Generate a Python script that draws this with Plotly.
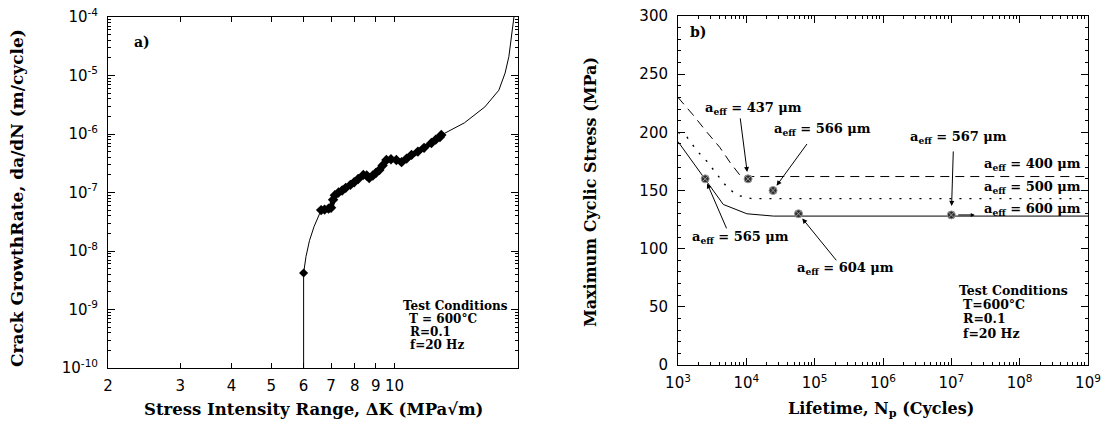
import math
import plotly.graph_objects as go

W, H = 1114, 426

# ---------------- Panel a) data ----------------
dk_line = [6.0, 6.0, 6.08, 6.2, 6.36, 6.62, 6.9, 7.0, 7.15, 7.6, 7.97, 8.39, 8.67, 9.18, 9.55,
           10.1, 10.4, 11.0, 11.8, 12.9, 13.0, 14.8, 16.6, 17.96, 18.6, 19.0, 19.35, 19.55]
rate_line = [1e-10, 4.2e-9, 8e-9, 1.5e-8, 2.6e-8, 5.0e-8, 5.3e-8, 5.5e-8, 9.0e-8, 1.2e-7, 1.5e-7,
             2.0e-7, 1.77e-7, 2.43e-7, 3.6e-7, 3.6e-7, 3.3e-7, 4.4e-7, 5.8e-7, 8.9e-7, 9.6e-7,
             1.55e-6, 2.9e-6, 5.6e-6, 1.1e-5, 2.1e-5, 5.4e-5, 1e-4]

dk_single = [6.0]
rate_single = [4.2e-9]

dk_pts = [6.62, 6.75, 6.9, 7.0, 7.08, 7.15, 7.3, 7.45, 7.6, 7.8, 7.97, 8.15, 8.39, 8.55, 8.67,
          8.85, 9.0, 9.18, 9.35, 9.55, 9.8, 10.1, 10.4, 10.7, 11.0, 11.4, 11.8, 12.3, 12.6, 12.9, 13.0]
rate_pts = [5.0e-8, 5.1e-8, 5.3e-8, 5.5e-8, 7.5e-8, 9.0e-8, 1.0e-7, 1.08e-7, 1.2e-7, 1.35e-7,
            1.5e-7, 1.7e-7, 2.0e-7, 1.95e-7, 1.77e-7, 1.95e-7, 2.15e-7, 2.43e-7, 2.9e-7, 3.6e-7,
            3.7e-7, 3.6e-7, 3.3e-7, 3.8e-7, 4.4e-7, 5.0e-7, 5.8e-7, 7.0e-7, 8.0e-7, 8.9e-7, 9.6e-7]

a_xticks = [2, 3, 4, 5, 6, 7, 8, 9, 10]
a_xticktext = ["2", "3", "4", "5", "6", "7", "8", "9", "10"]
a_yticks = [1e-10, 1e-9, 1e-8, 1e-7, 1e-6, 1e-5, 1e-4]
a_yticktext = ["10<sup>-10</sup>", "10<sup>-9</sup>", "10<sup>-8</sup>", "10<sup>-7</sup>",
               "10<sup>-6</sup>", "10<sup>-5</sup>", "10<sup>-4</sup>"]

# ---------------- Panel b) data ----------------
n_solid = [1e3, 2.5e3, 4.6e3, 1.02e4, 2.5e4, 5.8e4, 1e9]
s_solid = [192, 160, 138, 130, 128, 128, 128]
n_dot = [1e3, 1.35e3, 1.9e3, 2.66e3, 3.7e3, 5.2e3, 7.3e3, 1.2e4, 1e9]
s_dot = [200, 196, 184, 175, 164, 153, 146, 143, 143]
n_dash = [1e3, 1.66e3, 2.66e3, 4.1e3, 5.8e3, 8.1e3, 1.25e4, 1e9]
s_dash = [230, 215, 200, 187, 174, 163, 162, 162]

n_marks = [2.5e3, 1.06e4, 2.46e4, 5.8e4, 1e7]
s_marks = [160, 160, 150, 130, 129]
aeff_marks = ["565", "437", "566", "604", "567"]

b_xticks = [1e3, 1e4, 1e5, 1e6, 1e7, 1e8, 1e9]
b_xticktext = ["10<sup>3</sup>", "10<sup>4</sup>", "10<sup>5</sup>", "10<sup>6</sup>",
               "10<sup>7</sup>", "10<sup>8</sup>", "10<sup>9</sup>"]
b_yticks = [0, 50, 100, 150, 200, 250, 300]

# ---------------- figure ----------------
SERIF = "DejaVu Serif"
SANS = "DejaVu Sans"

def px(x):
    return x / W

def py(y):
    return 1 - y / H

fig = go.Figure()

fig.add_trace(go.Scatter(x=dk_line, y=rate_line, mode="lines",
                         line=dict(color="black", width=1), xaxis="x", yaxis="y",
                         showlegend=False, hoverinfo="skip"))
fig.add_trace(go.Scatter(x=dk_pts, y=rate_pts, mode="lines+markers",
                         line=dict(color="black", width=5),
                         marker=dict(symbol="diamond", size=8, color="black"),
                         xaxis="x", yaxis="y", showlegend=False))
fig.add_trace(go.Scatter(x=dk_single, y=rate_single, mode="markers",
                         marker=dict(symbol="diamond", size=7, color="black"),
                         xaxis="x", yaxis="y", showlegend=False))

fig.add_trace(go.Scatter(x=n_solid, y=s_solid, mode="lines",
                         line=dict(color="black", width=1), xaxis="x2", yaxis="y2",
                         showlegend=False))
fig.add_trace(go.Scatter(x=n_dot, y=s_dot, mode="lines",
                         line=dict(color="black", width=1.4, dash="2px,8px"), xaxis="x2", yaxis="y2",
                         showlegend=False))
fig.add_trace(go.Scatter(x=n_dash, y=s_dash, mode="lines",
                         line=dict(color="black", width=1, dash="9px,6px"), xaxis="x2", yaxis="y2",
                         showlegend=False))
fig.add_trace(go.Scatter(x=n_marks, y=s_marks, mode="markers", text=aeff_marks,
                         marker=dict(symbol="circle-x", size=8, color="#303030",
                                     line=dict(color="#9a9a9a", width=1)),
                         xaxis="x2", yaxis="y2", showlegend=False))

axis_common = dict(showline=True, linecolor="black", linewidth=1, mirror="ticks",
                   ticks="inside", tickcolor="black", showgrid=False, zeroline=False,
                   automargin=False,
                   tickfont=dict(family=SANS, size=15, color="black"))

a_minor_y = [m * 10.0 ** e for e in range(-10, -4) for m in range(2, 10)]
b_minor_x = [m * 10.0 ** e for e in range(3, 9) for m in range(2, 10)]
b_minor_y = list(range(0, 301, 10))

fig.update_layout(
    width=W, height=H,
    margin=dict(l=0, r=0, t=0, b=0, autoexpand=False),
    paper_bgcolor="white", plot_bgcolor="white",
    xaxis=dict(axis_common, type="log", range=[math.log10(2), math.log10(20)],
               domain=[px(108), px(518)], anchor="y",
               tickvals=a_xticks, ticktext=a_xticktext, ticklen=5, ticklabelstandoff=4),
    yaxis=dict(axis_common, type="log", range=[-10, -4],
               domain=[py(368), py(17)], anchor="x",
               tickvals=a_yticks, ticktext=a_yticktext, ticklen=7, ticklabelstandoff=6,
               minor=dict(tickmode="array", tickvals=a_minor_y, ticks="inside", ticklen=3,
                          tickcolor="black", showgrid=False)),
    xaxis2=dict(axis_common, type="log", range=[3, 9],
                domain=[px(678), px(1088)], anchor="y2",
                tickvals=b_xticks, ticktext=b_xticktext, ticklen=7, ticklabelstandoff=4,
                minor=dict(tickmode="array", tickvals=b_minor_x, ticks="inside", ticklen=3,
                           tickcolor="black", showgrid=False)),
    yaxis2=dict(axis_common, range=[0, 300],
                domain=[py(365), py(16)], anchor="x2",
                tickvals=b_yticks, ticklen=7, ticklabelstandoff=6,
                minor=dict(tickmode="array", tickvals=b_minor_y, ticks="inside", ticklen=3,
                           tickcolor="black", showgrid=False)),
)

ann = []

def txt(x, y, s, size=13, xanchor="left"):
    ann.append(dict(x=px(x), y=py(y), xref="paper", yref="paper", text=s, showarrow=False,
                    xanchor=xanchor, yanchor="middle",
                    font=dict(family=SERIF, size=size, color="black")))

def title(x, y, s, angle=0, size=17):
    ann.append(dict(x=px(x), y=py(y), xref="paper", yref="paper", text=s, showarrow=False,
                    xanchor="center", yanchor="middle", textangle=angle,
                    font=dict(family=SERIF, size=size, color="black")))

# axis titles
title(17, 198, "<b>Crack GrowthRate, da/dN (m/cycle)</b>", -90, 17)
title(313, 409, "<b>Stress Intensity Range, ΔK (MPa√m)</b>", 0, 16.5)
title(590, 192, "<b>Maximum Cyclic Stress (MPa)</b>", -90, 16)
title(881, 409, "<b>Lifetime, N<sub>p</sub> (Cycles)</b>", 0, 16)

# panel labels
txt(132, 42, "<b>a)</b>", 14)
txt(688, 32, "<b>b)</b>", 14)

# test conditions a)
txt(401, 306, "<b>Test Conditions</b>", 12)
txt(407, 319, "<b>T = 600°C</b>", 12)
txt(408, 332, "<b>R=0.1</b>", 12)
txt(408, 345, "<b>f=20 Hz</b>", 12)

# test conditions b)
txt(957, 290, "<b>Test Conditions</b>", 12.5)
txt(961, 304, "<b>T=600°C</b>", 12.5)
txt(961, 318, "<b>R=0.1</b>", 12.5)
txt(961, 333, "<b>f=20 Hz</b>", 12.5)

# a_eff labels
def aeff(v):
    return "<b>a<sub>eff</sub> = " + v + " μm</b>"

txt(703, 108, aeff("437"))
txt(772, 130, aeff("566"))
txt(690, 237, aeff("565"))
txt(795, 268, aeff("604"))
txt(908, 137, aeff("567"))
txt(1083, 165, aeff("400"), xanchor="right")
txt(1083, 187, aeff("500"), xanchor="right")
txt(1083, 209, aeff("600"), xanchor="right")

# arrows to markers (tail offsets in pixels)
arrow_offsets = {"437": (-8, -62, 7), "566": (35, -48, 6), "565": (22, 51, 5),
                 "604": (39, 48, 6), "567": (2, -65, 9)}
for n, s, lab in zip(n_marks, s_marks, aeff_marks):
    ax_, ay_, so = arrow_offsets[lab]
    ann.append(dict(x=math.log10(n), y=s, xref="x2", yref="y2", text="", showarrow=True,
                    ax=ax_, ay=ay_, standoff=so, arrowhead=2, arrowsize=1, arrowwidth=1,
                    arrowcolor="black"))
# small arrow beside the 10^7 marker
ann.append(dict(x=math.log10(2.2e7), y=s_marks[-1], xref="x2", yref="y2", text="",
                showarrow=True, ax=-18, ay=0, arrowhead=2, arrowsize=0.8, arrowwidth=1,
                arrowcolor="black"))

fig.update_layout(annotations=ann)
fig.write_html("out.html", config={"displayModeBar": False},
               post_script="document.body.style.margin='0';document.body.style.overflow='hidden';")
